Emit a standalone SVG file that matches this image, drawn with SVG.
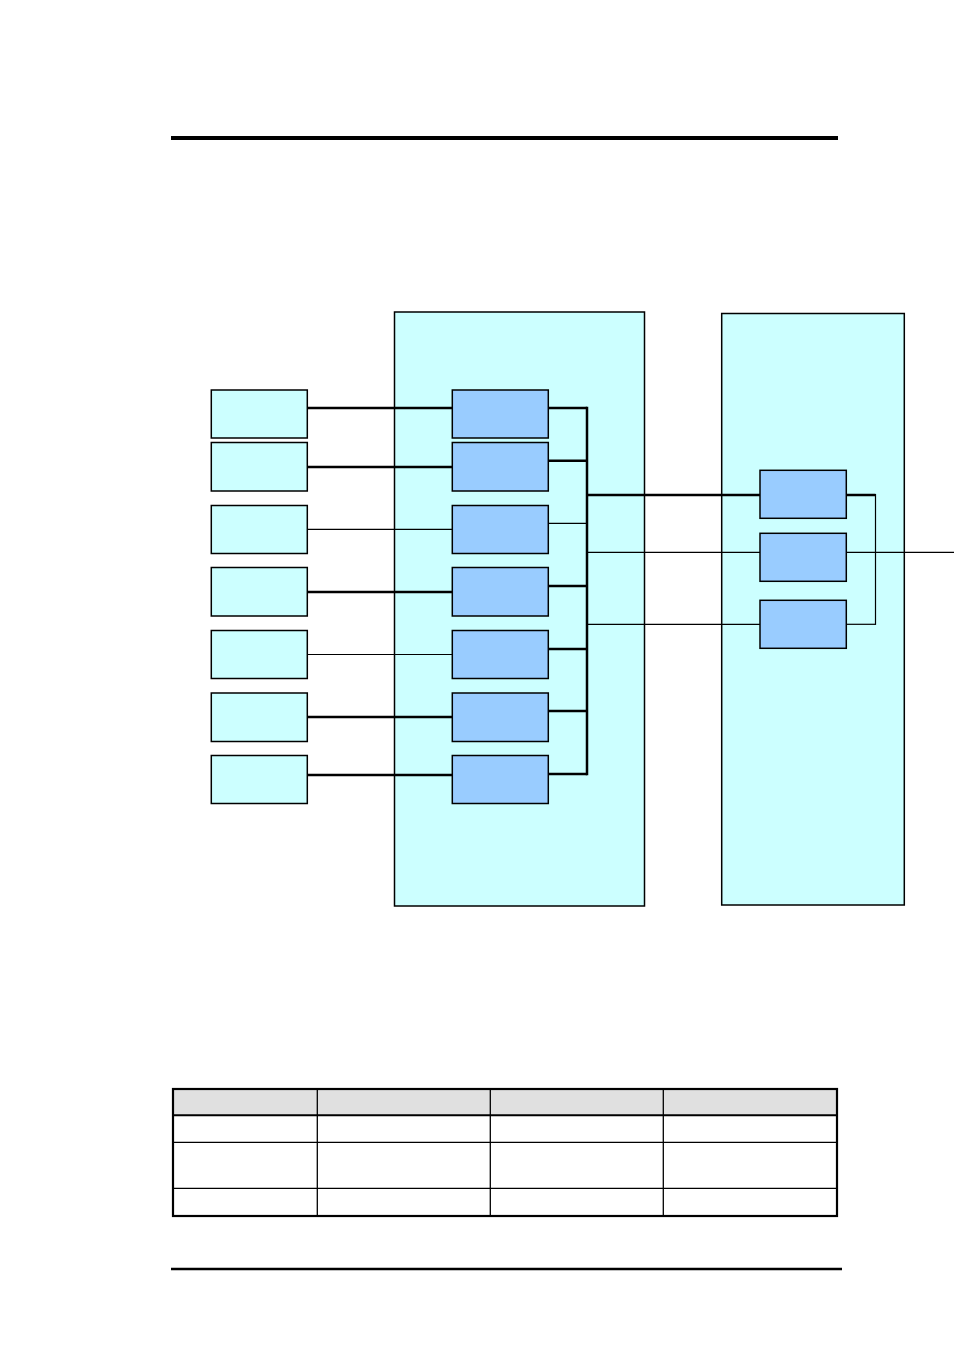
<svg xmlns="http://www.w3.org/2000/svg" width="954" height="1350" viewBox="0 0 954 1350">
<style>
.rule{stroke:#000;fill:none}
.container{fill:#ccffff;stroke:#000;stroke-width:1.5}
.src{fill:#ccffff;stroke:#000;stroke-width:1.5}
.mod{fill:#99ccff;stroke:#000;stroke-width:1.5}
.thick{stroke:#000;stroke-width:2.5;fill:none}
.thin{stroke:#000;stroke-width:1.2;fill:none}
.tcell{fill:#fff;stroke:#000;stroke-width:1.3}
.thead{fill:#e0e0e0}
</style>
<rect width="954" height="1350" fill="#fff"/>
<line class="rule" x1="171" y1="138" x2="838" y2="138" stroke-width="4"/>
<line class="rule" x1="171" y1="1269" x2="842" y2="1269" stroke-width="2.5"/>

<g id="container-main"><rect class="container" x="394.5" y="312" width="250" height="594"/></g>
<g id="container-right"><rect class="container" x="721.7" y="313.5" width="182.6" height="591.5"/></g>

<g id="connectors">
  <line class="thick" x1="307" y1="408" x2="452" y2="408"/>
  <line class="thick" x1="307" y1="467" x2="452" y2="467"/>
  <line class="thin" x1="307" y1="529.3" x2="452" y2="529.3"/>
  <line class="thick" x1="307" y1="592" x2="452" y2="592"/>
  <line class="thin" x1="307" y1="654.5" x2="452" y2="654.5"/>
  <line class="thick" x1="307" y1="717" x2="452" y2="717"/>
  <line class="thick" x1="307" y1="775" x2="452" y2="775"/>

  <line class="thick" x1="548" y1="408" x2="587" y2="408"/>
  <line class="thick" x1="548" y1="460.7" x2="587" y2="460.7"/>
  <line class="thin" x1="548" y1="523.3" x2="587" y2="523.3"/>
  <line class="thick" x1="548" y1="586" x2="587" y2="586"/>
  <line class="thick" x1="548" y1="649" x2="587" y2="649"/>
  <line class="thick" x1="548" y1="711" x2="587" y2="711"/>
  <line class="thick" x1="548" y1="774" x2="587" y2="774"/>
  <line class="thick" x1="587" y1="406.8" x2="587" y2="775.2"/>

  <line class="thick" x1="587" y1="495" x2="760" y2="495"/>
  <line class="thin" x1="587" y1="552.3" x2="760" y2="552.3"/>
  <line class="thin" x1="587" y1="624.3" x2="760" y2="624.3"/>

  <line class="thick" x1="846" y1="495" x2="875.5" y2="495"/>
  <line class="thin" x1="846" y1="624.3" x2="875.5" y2="624.3"/>
  <line class="thin" x1="875.5" y1="494" x2="875.5" y2="624.9"/>
  <line class="thin" x1="846" y1="552.3" x2="954" y2="552.3"/>
</g>

<g id="src-1"><rect class="src" x="211.3" y="390" width="96" height="48"/></g>
<g id="src-2"><rect class="src" x="211.3" y="442.5" width="96" height="48.5"/></g>
<g id="src-3"><rect class="src" x="211.3" y="505.5" width="96" height="48"/></g>
<g id="src-4"><rect class="src" x="211.3" y="567.5" width="96" height="48.5"/></g>
<g id="src-5"><rect class="src" x="211.3" y="630.5" width="96" height="48"/></g>
<g id="src-6"><rect class="src" x="211.3" y="693" width="96" height="48.5"/></g>
<g id="src-7"><rect class="src" x="211.3" y="755.5" width="96" height="48"/></g>

<g id="mod-1"><rect class="mod" x="452.3" y="390" width="96" height="48"/></g>
<g id="mod-2"><rect class="mod" x="452.3" y="442.5" width="96" height="48.5"/></g>
<g id="mod-3"><rect class="mod" x="452.3" y="505.5" width="96" height="48"/></g>
<g id="mod-4"><rect class="mod" x="452.3" y="567.5" width="96" height="48.5"/></g>
<g id="mod-5"><rect class="mod" x="452.3" y="630.5" width="96" height="48"/></g>
<g id="mod-6"><rect class="mod" x="452.3" y="693" width="96" height="48.5"/></g>
<g id="mod-7"><rect class="mod" x="452.3" y="755.5" width="96" height="48"/></g>

<g id="out-1"><rect class="mod" x="760" y="470.3" width="86.3" height="48"/></g>
<g id="out-2"><rect class="mod" x="760" y="533.3" width="86.3" height="48"/></g>
<g id="out-3"><rect class="mod" x="760" y="600.3" width="86.3" height="48"/></g>

<g id="table">
  <rect class="thead" x="173" y="1089" width="664" height="26.3"/>
  <g class="tcell" fill="none">
    <line x1="173" y1="1115.3" x2="837" y2="1115.3" stroke-width="2"/>
    <line x1="173" y1="1142.3" x2="837" y2="1142.3"/>
    <line x1="173" y1="1188.3" x2="837" y2="1188.3"/>
    <line x1="317.3" y1="1089" x2="317.3" y2="1216"/>
    <line x1="490.3" y1="1089" x2="490.3" y2="1216"/>
    <line x1="663.3" y1="1089" x2="663.3" y2="1216"/>
  </g>
  <rect x="173" y="1089" width="664" height="127" fill="none" stroke="#000" stroke-width="2.2"/>
</g>
</svg>
